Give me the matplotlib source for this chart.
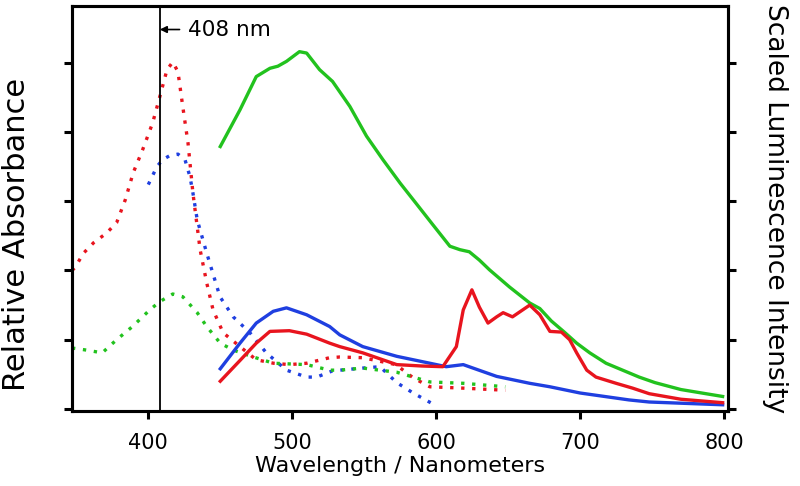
import matplotlib
matplotlib.use("Agg")
import matplotlib.pyplot as plt

# ---- data ----
# Absorbance (dotted)
abs_red_wl = [347, 349, 355, 362, 371, 378, 384, 389.5, 396, 403, 408, 413, 417, 420.6, 424, 427.6, 431,
              436, 440.6, 445, 452, 463.7, 475, 487, 498, 510, 526, 533, 549, 572, 584, 595.6, 619, 648]
abs_red = [2.00, 2.04, 2.25, 2.40, 2.54, 2.69, 3.02, 3.41, 3.74, 4.13, 4.51, 4.90, 5.01, 4.87, 4.36, 3.84, 3.12,
           2.30, 1.82, 1.43, 1.10, 0.90, 0.71, 0.66, 0.64, 0.66, 0.74, 0.75, 0.74, 0.64, 0.45, 0.32, 0.30, 0.27]

abs_blue_wl = [400, 406, 410, 415, 420.6, 425.5, 429, 431, 434, 440.6, 449.8, 459, 470.6, 482, 496, 510, 517,
               528, 549, 561, 572.6, 584, 597]
abs_blue = [3.24, 3.50, 3.60, 3.66, 3.68, 3.60, 3.35, 3.12, 2.73, 2.25, 1.62, 1.33, 1.10, 0.81, 0.56, 0.46, 0.46,
            0.55, 0.59, 0.61, 0.38, 0.23, 0.08]

abs_green_wl = [347, 357, 368, 378, 389, 401, 408, 417, 424, 434, 440.6, 450, 459, 473, 487, 510, 526, 533,
                549, 572.6, 584, 595.6, 619, 648]
abs_green = [0.88, 0.85, 0.81, 1.00, 1.19, 1.43, 1.55, 1.66, 1.62, 1.39, 1.19, 0.95, 0.85, 0.75, 0.66, 0.64,
             0.56, 0.56, 0.59, 0.53, 0.46, 0.39, 0.37, 0.32]

# Luminescence (solid)
lum_green_wl = [450, 463.7, 475, 484.5, 490, 496, 505, 510, 519, 528, 540, 551.6, 563, 575, 586, 597.7,
                609.5, 616.5, 623, 630, 637, 651, 665, 672, 680, 689, 697.6, 706.7, 718, 741, 752, 770, 799]
lum_green = [3.79, 4.32, 4.80, 4.92, 4.95, 5.02, 5.16, 5.14, 4.90, 4.73, 4.37, 3.94, 3.60, 3.26, 2.97, 2.66,
             2.35, 2.30, 2.27, 2.15, 2.01, 1.76, 1.53, 1.45, 1.27, 1.11, 0.95, 0.81, 0.66, 0.46, 0.38, 0.28, 0.18]

lum_red_wl = [450, 463.7, 475, 484.5, 498, 510, 526, 533, 549, 572.6, 590, 604.6, 614, 618.8, 624.8, 630, 636,
              642, 646.5, 653, 665, 672, 679, 687, 692.7, 697.6, 704.6, 711, 725, 736.5, 748, 770, 799]
lum_red = [0.40, 0.70, 0.95, 1.12, 1.13, 1.08, 0.95, 0.90, 0.81, 0.64, 0.62, 0.61, 0.90, 1.43, 1.72, 1.47, 1.24,
           1.33, 1.39, 1.33, 1.50, 1.36, 1.12, 1.11, 1.00, 0.81, 0.56, 0.46, 0.37, 0.30, 0.22, 0.14, 0.09]

lum_blue_wl = [450, 463.7, 475, 486.8, 496, 510, 526, 533, 549, 572.6, 595.6, 607, 618.8, 625.6, 642, 665,
               679, 700, 734, 748, 799]
lum_blue = [0.58, 0.95, 1.24, 1.41, 1.46, 1.36, 1.19, 1.07, 0.90, 0.76, 0.66, 0.61, 0.64, 0.59, 0.47, 0.37,
            0.32, 0.23, 0.13, 0.10, 0.06]

x_ticks = [400, 500, 600, 700, 800]
y_ticks = [0, 1, 2, 3, 4, 5]
excitation_nm = 408

RED = "#e8141e"
GREEN = "#22c21e"
BLUE = "#1f3fe0"

plt.rcParams['font.family'] = ['DejaVu Sans']

fig = plt.figure(figsize=(8, 4.86), dpi=100)
ax = fig.add_axes([0.09, 0.1543, 0.8196, 0.8334])
ax2 = ax.twinx()

dot = (0, (1, 2.3))
lw = 2.4
ax.plot(abs_red_wl, abs_red, color=RED, lw=lw, ls=dot)
ax.plot(abs_blue_wl, abs_blue, color=BLUE, lw=lw, ls=dot)
ax.plot(abs_green_wl, abs_green, color=GREEN, lw=lw, ls=dot)

ax2.plot(lum_green_wl, lum_green, color=GREEN, lw=lw, solid_joinstyle='round')
ax2.plot(lum_blue_wl, lum_blue, color=BLUE, lw=lw, solid_joinstyle='round')
ax2.plot(lum_red_wl, lum_red, color=RED, lw=lw, solid_joinstyle='round')

ax.axvline(excitation_nm, color='black', lw=1.3)

for a in (ax, ax2):
    a.set_xlim(347, 802.5)
    a.set_ylim(-0.03, 5.82)
    a.set_yticks(y_ticks)
    a.set_yticklabels([])
    for s in a.spines.values():
        s.set_linewidth(2.2)
    a.tick_params(axis='both', direction='out', length=6, width=2.2)

ax.set_xticks(x_ticks)
ax.set_xticklabels([str(t) for t in x_ticks], fontsize=15)
ax.tick_params(axis='x', pad=10)

ax.set_xlabel("Wavelength / Nanometers", fontsize=16, labelpad=2)
ax.set_ylabel("Relative Absorbance", fontsize=22)
ax.yaxis.set_label_coords(-0.062, 0.435)
ax2.set_ylabel("Scaled Luminescence Intensity", fontsize=19, rotation=270, labelpad=34)

ax.annotate("408 nm", xy=(excitation_nm, 5.48), xytext=(427.5, 5.48),
            fontsize=15.5, va='center', ha='left',
            arrowprops=dict(arrowstyle='-|>', color='black', lw=1.2, shrinkA=4, shrinkB=0,
                            mutation_scale=10))

fig.savefig("out.png", dpi=100)
